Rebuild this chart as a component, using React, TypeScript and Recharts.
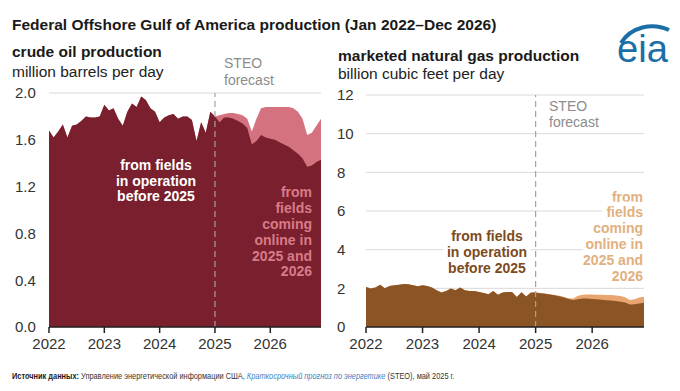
import React from "react";
import { AreaChart, Area, XAxis, YAxis, CartesianGrid, ReferenceLine } from "recharts";

const FONT = '"Liberation Sans", Arial, sans-serif';

const yearLabels = ["2022", "2023", "2024", "2025", "2026"];
const yearTicks = [0, 12, 24, 36, 48];
const forecastStart = 36;

// crude oil, million b/d, monthly Jan 2022 - Dec 2024
const oilHistory = [
  1.68, 1.62, 1.67, 1.73, 1.62, 1.72, 1.73, 1.76, 1.8, 1.79, 1.79, 1.8,
  1.9, 1.85, 1.87, 1.78, 1.72, 1.84, 1.91, 1.88, 1.97, 1.94, 1.87, 1.84,
  1.75, 1.79, 1.81, 1.82, 1.78, 1.8, 1.8, 1.77, 1.59, 1.75, 1.66, 1.84,
];
// forecast Jan 2025 - Dec 2026
const oilExisting = [
  1.8, 1.75, 1.79, 1.79, 1.78, 1.76, 1.74, 1.7, 1.56, 1.59, 1.64, 1.62,
  1.61, 1.6, 1.58, 1.56, 1.54, 1.51, 1.48, 1.44, 1.37, 1.38, 1.41, 1.43,
];
const oilAll = [
  1.8, 1.81, 1.82, 1.83, 1.83, 1.82, 1.81, 1.78, 1.67, 1.78, 1.87, 1.88,
  1.88, 1.88, 1.88, 1.88, 1.88, 1.87, 1.84, 1.78, 1.64, 1.66, 1.72, 1.78,
];

// marketed natural gas, Bcf/d
const gasHistory = [
  2.07, 1.99, 2.04, 2.19, 2.0, 2.12, 2.16, 2.19, 2.23, 2.21, 2.16, 2.11,
  2.16, 2.12, 2.04, 1.9, 1.78, 1.86, 1.99, 1.9, 2.04, 1.9, 1.86, 1.86,
  1.81, 1.76, 1.69, 1.86, 1.67, 1.78, 1.81, 1.81, 1.55, 1.8, 1.58, 1.78,
];
const gasExisting = [
  1.78, 1.75, 1.72, 1.68, 1.64, 1.59, 1.53, 1.45, 1.4, 1.44, 1.48, 1.47,
  1.45, 1.43, 1.41, 1.39, 1.37, 1.34, 1.31, 1.27, 1.16, 1.18, 1.22, 1.25,
];
const gasAll = [
  1.78, 1.76, 1.73, 1.7, 1.66, 1.61, 1.56, 1.49, 1.48, 1.62, 1.67, 1.68,
  1.68, 1.67, 1.67, 1.66, 1.65, 1.63, 1.6, 1.54, 1.4, 1.44, 1.53, 1.57,
];

const oilTicks = [0, 0.4, 0.8, 1.2, 1.6, 2.0];
const gasTicks = [0, 2, 4, 6, 8, 10, 12];

function buildRows(history: number[], existing: number[], all: number[]) {
  return [...history, ...existing].map((v, i) => ({
    t: i,
    existing: v,
    total: i < history.length ? history[i] : all[i - history.length],
  }));
}

const oilData = buildRows(oilHistory, oilExisting, oilAll);
const gasData = buildRows(gasHistory, gasExisting, gasAll);

const YTick = ({ y, payload, left, digits }: any) => (
  <text x={left} y={y} dy="0.36em" textAnchor="start" fontSize={15} fill="#333" fontFamily={FONT}>
    {Number(payload.value).toFixed(digits)}
  </text>
);

function Panel({ data, ticks, max, digits, dark, light, margin, yWidth, tickLeft }: any) {
  return (
    <AreaChart width={330} height={280} data={data} margin={margin}>
      <CartesianGrid vertical={false} stroke="#d9d9d9" />
      <XAxis
        dataKey="t"
        type="number"
        domain={[0, 59]}
        ticks={yearTicks}
        tickFormatter={(v) => yearLabels[yearTicks.indexOf(v)]}
        tick={{ fontSize: 15, fill: "#333", fontFamily: FONT }}
        tickSize={6}
        tickMargin={5}
        height={33}
        axisLine={{ stroke: "#222", strokeWidth: 1.5 }}
        tickLine={{ stroke: "#222", strokeWidth: 1.5 }}
      />
      <YAxis
        domain={[0, max]}
        ticks={ticks}
        width={yWidth}
        axisLine={false}
        tickLine={false}
        tick={(p: any) => <YTick {...p} left={tickLeft} digits={digits} />}
      />
      <Area type="linear" dataKey="total" stroke="none" fill={light} fillOpacity={1} isAnimationActive={false} />
      <Area type="linear" dataKey="existing" stroke="none" fill={dark} fillOpacity={1} isAnimationActive={false} />
      <ReferenceLine x={forecastStart} stroke="#a9a0a0" strokeDasharray="6 4" strokeWidth={1.2} />
    </AreaChart>
  );
}

const halo = { stroke: "#fff", strokeWidth: 9, strokeLinejoin: "round" as const, paintOrder: "stroke" as const };

export default function App() {
  return (
    <div style={{ position: "absolute", left: 0, top: 0, width: 680, height: 391, background: "#fff", fontFamily: FONT }}>
      <div style={{ position: "absolute", left: 0, top: 80 }}>
        <Panel
          data={oilData}
          ticks={oilTicks}
          max={2}
          digits={1}
          dark="#7a1f2e"
          light="#d4737f"
          margin={{ top: 13, right: 9, left: 0, bottom: 0 }}
          yWidth={49}
          tickLeft={15}
        />
      </div>
      <div style={{ position: "absolute", left: 330, top: 80 }}>
        <Panel
          data={gasData}
          ticks={gasTicks}
          max={12}
          digits={0}
          dark="#8b5424"
          light="#e9a56f"
          margin={{ top: 15, right: 16, left: 0, bottom: 0 }}
          yWidth={36}
          tickLeft={7}
        />
      </div>
      <svg width={680} height={391} style={{ position: "absolute", left: 0, top: 0, pointerEvents: "none" }} fontFamily={FONT}>
        <text x={12} y={30} fontSize={15.5} fontWeight="bold" fill="#1a1a1a">
          Federal Offshore Gulf of America production (Jan 2022–Dec 2026)
        </text>
        <text x={12} y={57} fontSize={15.5} fontWeight="bold" fill="#1a1a1a">crude oil production</text>
        <text x={12} y={77} fontSize={15.5} fill="#222">million barrels per day</text>
        <text x={338} y={61} fontSize={15.5} fontWeight="bold" fill="#1a1a1a">marketed natural gas production</text>
        <text x={338} y={79} fontSize={15.5} fill="#222">billion cubic feet per day</text>

        <text x={224} y={68} fontSize={14} fill="#8c8c8c">STEO</text>
        <text x={224} y={85} fontSize={14} fill="#8c8c8c">forecast</text>
        <text x={549} y={111} fontSize={14} fill="#8c8c8c">STEO</text>
        <text x={549} y={127} fontSize={14} fill="#8c8c8c">forecast</text>

        <g fontSize={14} fontWeight="bold" fill="#fff" textAnchor="middle">
          <text x={156} y={170}>from fields</text>
          <text x={156} y={186}>in operation</text>
          <text x={156} y={201}>before 2025</text>
        </g>
        <g fontSize={14} fontWeight="bold" fill="#d87b87" textAnchor="end">
          <text x={312} y={197}>from</text>
          <text x={312} y={213}>fields</text>
          <text x={312} y={229}>coming</text>
          <text x={312} y={245}>online in</text>
          <text x={312} y={261}>2025 and</text>
          <text x={312} y={276}>2026</text>
        </g>
        <g fontSize={14} fontWeight="bold" fill="#7d4a1d" textAnchor="middle" {...halo}>
          <text x={487} y={241}>from fields</text>
          <text x={487} y={257}>in operation</text>
          <text x={487} y={273}>before 2025</text>
        </g>
        <g fontSize={14} fontWeight="bold" fill="#e2b07e" textAnchor="end" {...halo}>
          <text x={643} y={202}>from</text>
          <text x={643} y={217}>fields</text>
          <text x={643} y={233}>coming</text>
          <text x={643} y={249}>online in</text>
          <text x={643} y={265}>2025 and</text>
          <text x={643} y={281}>2026</text>
        </g>

        <path d="M621 43 C631 27 652 22 669 30" stroke="#1b6fa6" strokeWidth={4} fill="none" />
        <text x={617} y={62} fontSize={38} fill="#1b6fa6" textLength={51} lengthAdjust="spacingAndGlyphs">eia</text>

        <text transform="translate(12,379) scale(0.78,1)" fontSize={9.5} fill="#333">
          <tspan fontWeight="bold" fill="#1a1a1a">Источник данных:</tspan>
          <tspan> Управление энергетической информации США, </tspan>
          <tspan fill="#3d7fbf" fontStyle="italic">Краткосрочный прогноз по энергетике</tspan>
          <tspan> (STEO), май 2025 г.</tspan>
        </text>
      </svg>
    </div>
  );
}
